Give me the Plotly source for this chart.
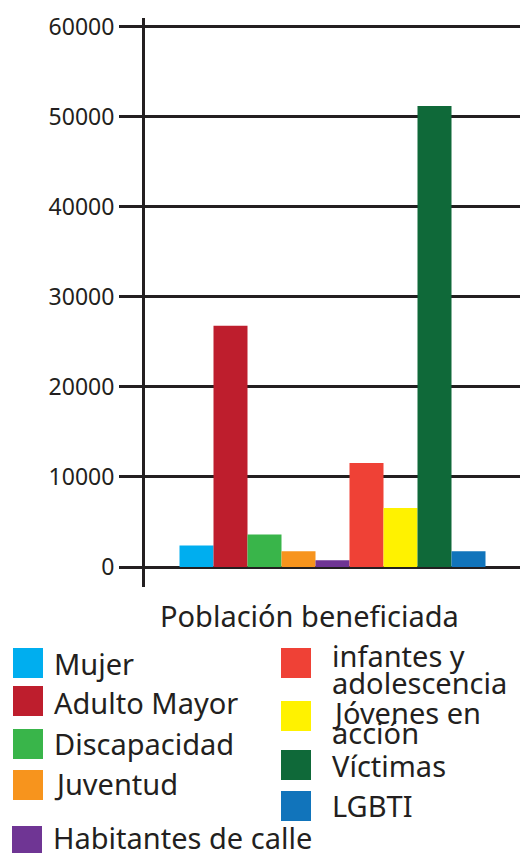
import plotly.graph_objects as go

# ---- data ----
categories = ["Mujer", "Adulto Mayor", "Discapacidad", "Juventud", "Habitantes de calle",
              "infantes y adolescencia", "Jóvenes en acción", "Víctimas", "LGBTI"]
values = [2400, 26800, 3600, 1750, 760, 11550, 6550, 51200, 1750]
colors = ["#00aeef", "#be1e2d", "#39b54a", "#f7941d", "#6f3594",
          "#ef4136", "#fff200", "#0f6939", "#1174bb"]
legend_lines = [["Mujer"], ["Adulto Mayor"], ["Discapacidad"], ["Juventud"], ["Habitantes de calle"],
                ["infantes y", "adolescencia"], ["Jóvenes en", "acción"], ["Víctimas"], ["LGBTI"]]
group_label = "Población beneficiada"
y_ticks = [0, 10000, 20000, 30000, 40000, 50000, 60000]

# ---- layout geometry (pixels) ----
W, H = 520, 853
ML, MR, MT, MB = 145, 0, 18, 266
PW, PH = W - ML - MR, H - MT - MB
INK = "#231f20"
FONT = "Noto Sans"


def px(x, y):
    return (x - ML) / PW, (H - MB - y) / PH


fig = go.Figure()
for name, val, col in zip(categories, values, colors):
    fig.add_trace(go.Bar(x=[group_label], y=[val], name=name, marker_color=col,
                         marker_line_width=0, showlegend=False))

# custom legend: swatch (left, top) and text baselines
swatch_pos = [(13, 648), (13, 686), (13, 729), (13, 770), (12, 826),
              (281, 648), (281, 701), (281, 750), (281, 791)]
text_x = [52, 52, 52, 52, 51, 330, 330, 330, 330]
baselines = [[673], [712], [753], [793], [847], [665, 692], [722, 742], [775], [815]]
SW = 30
shapes = []
annotations = []
for (sx, sy), col, lines, tx, bls in zip(swatch_pos, colors, legend_lines, text_x, baselines):
    x0, y0 = px(sx, sy)
    x1, y1 = px(sx + SW, sy + SW)
    shapes.append(dict(type="rect", xref="paper", yref="paper", x0=x0, x1=x1, y0=y1, y1=y0,
                       fillcolor=col, line_width=0, layer="above"))
    for line, bl in zip(lines, bls):
        ax, ay = px(tx, bl - 10)
        annotations.append(dict(text=line, xref="paper", yref="paper", x=ax, y=ay,
                                xanchor="left", yanchor="middle", showarrow=False,
                                font=dict(family=FONT, size=29, color=INK)))

gx, gy = px(309, 625 - 10)
annotations.append(dict(text=group_label, xref="paper", yref="paper", x=gx, y=gy,
                        xanchor="center", yanchor="middle", showarrow=False,
                        font=dict(family=FONT, size=29, color=INK)))

# y range so that 0 -> y=567px and 60000 -> y=26.7px
scale = (567 - 26.7) / 60000
y_top = 60000 + (26.7 - MT) / scale
y_bot = -((H - MB) - 567) / scale

fig.update_layout(
    width=W, height=H,
    margin=dict(l=ML, r=MR, t=MT, b=MB, pad=0),
    paper_bgcolor="white", plot_bgcolor="white",
    barmode="group", bargap=0.184, bargroupgap=0,
    font=dict(family=FONT, color=INK),
    shapes=shapes, annotations=annotations,
    xaxis=dict(showticklabels=False, showgrid=False, showline=False, ticks="",
               range=[-0.5, 0.5], fixedrange=True),
    yaxis=dict(range=[y_bot, y_top], tickvals=y_ticks, ticktext=[str(v) for v in y_ticks],
               showgrid=True, gridcolor=INK, gridwidth=2.5,
               zeroline=True, zerolinecolor=INK, zerolinewidth=3,
               showline=True, linecolor=INK, linewidth=3,
               ticks="outside", ticklen=23, tickwidth=2.5, tickcolor=INK,
               tickfont=dict(family=FONT, size=23, color=INK), fixedrange=True),
)

fig.write_html("out.html", config={"displayModeBar": False},
               post_script="document.body.style.margin='0';document.body.style.overflow='hidden';")
